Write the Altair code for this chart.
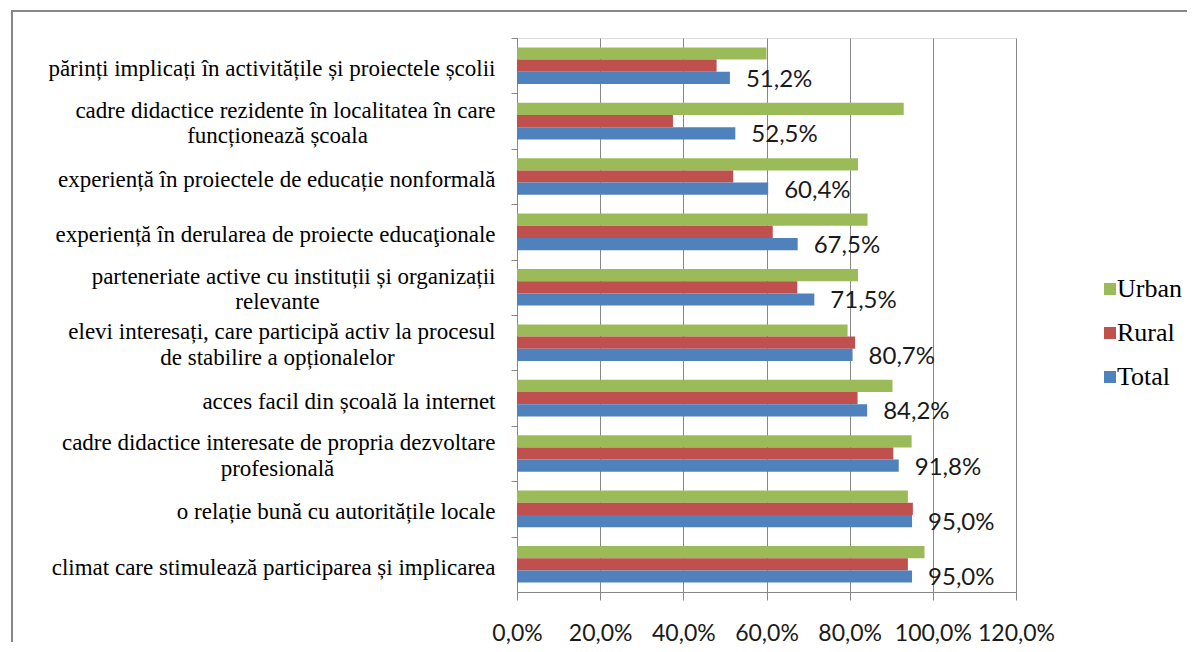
import altair as alt
import pandas as pd

categories = [
    "părinți implicați în activitățile și proiectele școlii",
    "cadre didactice rezidente în localitatea în care\nfuncționează școala",
    "experiență în proiectele de educație nonformală",
    "experiență în derularea de proiecte educaţionale",
    "parteneriate active cu instituții și organizații\nrelevante",
    "elevi interesați, care participă activ la procesul\nde stabilire a opționalelor",
    "acces facil din școală la internet",
    "cadre didactice interesate de propria dezvoltare\nprofesională",
    "o relație bună cu autoritățile locale",
    "climat care stimulează participarea și implicarea",
]
series = ["Urban", "Rural", "Total"]
urban = [60.0, 93.0, 82.0, 84.3, 82.0, 79.5, 90.3, 94.9, 94.0, 98.0]
rural = [48.0, 37.5, 52.0, 61.5, 67.4, 81.3, 81.9, 90.5, 95.2, 94.0]
total = [51.2, 52.5, 60.4, 67.5, 71.5, 80.7, 84.2, 91.8, 95.0, 95.0]
colors = ["#9BBB59", "#C0504D", "#4F81BD"]
x_ticks = [0, 20, 40, 60, 80, 100, 120]

rows = []
for name, vals in zip(series, [urban, rural, total]):
    for c, v in zip(categories, vals):
        rows.append({"category": c, "series": name, "value": v})
df = pd.DataFrame(rows)

GRID = "#878787"
two_line = "length(split(datum.label, '\\n')) > 1"
HALF_STEP = 27.7

y_enc_main = alt.Y(
    "category:N",
    sort=categories,
    scale=alt.Scale(paddingInner=0.34, paddingOuter=0.17),
    axis=alt.Axis(
        title=None,
        labelExpr="split(datum.label, '\\n')[0]",
        labelFont="Liberation Serif",
        labelFontSize=23,
        labelColor="#000000",
        labelAlign="right",
        labelBaseline="middle",
        labelPadding=16,
        labelLimit=600,
        labelOffset={"condition": {"test": two_line, "value": HALF_STEP - 11}, "value": HALF_STEP + 3},
        tickOffset=-HALF_STEP,
        tickSize=6,
        tickColor=GRID,
        domainColor=GRID,
        grid=False,
    ),
)

y_off = alt.YOffset("series:N", sort=series, scale=alt.Scale(paddingInner=0, paddingOuter=0))

bars = alt.Chart(df).mark_bar().encode(
    x=alt.X(
        "value:Q",
        scale=alt.Scale(domain=[0, 120], nice=False),
        axis=alt.Axis(
            title=None,
            values=x_ticks,
            labelExpr="replace(format(datum.value, '.1f'), '.', ',') + '%'",
            labelFont="Lato",
            labelFontSize=23,
            labelColor="#1a1a1a",
            labelPadding=22,
            labelOverlap=False,
            labelFlush=False,
            tickSize=8,
            tickColor=GRID,
            domainColor=GRID,
            gridColor=GRID,
            gridWidth=1,
            grid=True,
        ),
    ),
    y=y_enc_main,
    yOffset=y_off,
    color=alt.Color(
        "series:N",
        sort=series,
        scale=alt.Scale(domain=series, range=colors),
        legend=alt.Legend(
            title=None,
            orient="none",
            legendX=580,
            legendY=238,
            symbolType="square",
            symbolSize=144,
            symbolStrokeWidth=0,
            labelFont="Liberation Serif",
            labelFontSize=26,
            labelColor="#000000",
            labelOffset=alt.ExprRef("-6"),
            rowPadding=18,
            padding=0,
        ),
    ),
)

labels = alt.Chart(df).transform_filter(
    alt.datum.series == "Total"
).transform_calculate(
    txt="replace(format(datum.value, '.1f'), '.', ',') + '%'"
).mark_text(
    align="left", baseline="middle", dx=16, dy=2, font="Lato", fontSize=24, color="#1a1a1a"
).encode(
    x=alt.X("value:Q"),
    y=alt.Y(
        "category:N",
        sort=categories,
        axis=alt.Axis(
            title=None,
            orient="left",
            labelExpr="length(split(datum.label, '\\n')) > 1 ? split(datum.label, '\\n')[1] : ''",
            labelFont="Liberation Serif",
            labelFontSize=23,
            labelColor="#000000",
            labelAlign="center",
            labelBaseline="middle",
            labelPadding=240,
            labelOffset=15,
            labelLimit=600,
            ticks=False,
            domain=False,
            grid=False,
        ),
    ),
    yOffset=y_off,
    text="txt:N",
)

frame_data = alt.Data(values=[{"k": 1}])
frame_left = alt.Chart(frame_data).mark_rule(color=GRID, strokeWidth=2).encode(
    x=alt.value(-505), y=alt.value(-27), y2=alt.value(604)
)
frame_top = alt.Chart(frame_data).mark_rule(color=GRID, strokeWidth=2).encode(
    x=alt.value(-506), x2=alt.value(670), y=alt.value(-27)
)

chart = alt.layer(bars, labels, frame_left, frame_top).resolve_axis(
    y="independent"
).properties(
    width=499,
    height=554,
    padding={"left": 2, "top": 2, "right": 0, "bottom": 0},
).configure_view(stroke=None).configure(background="white")

chart.save("out.html", embed_options={"renderer": "svg", "actions": False})
